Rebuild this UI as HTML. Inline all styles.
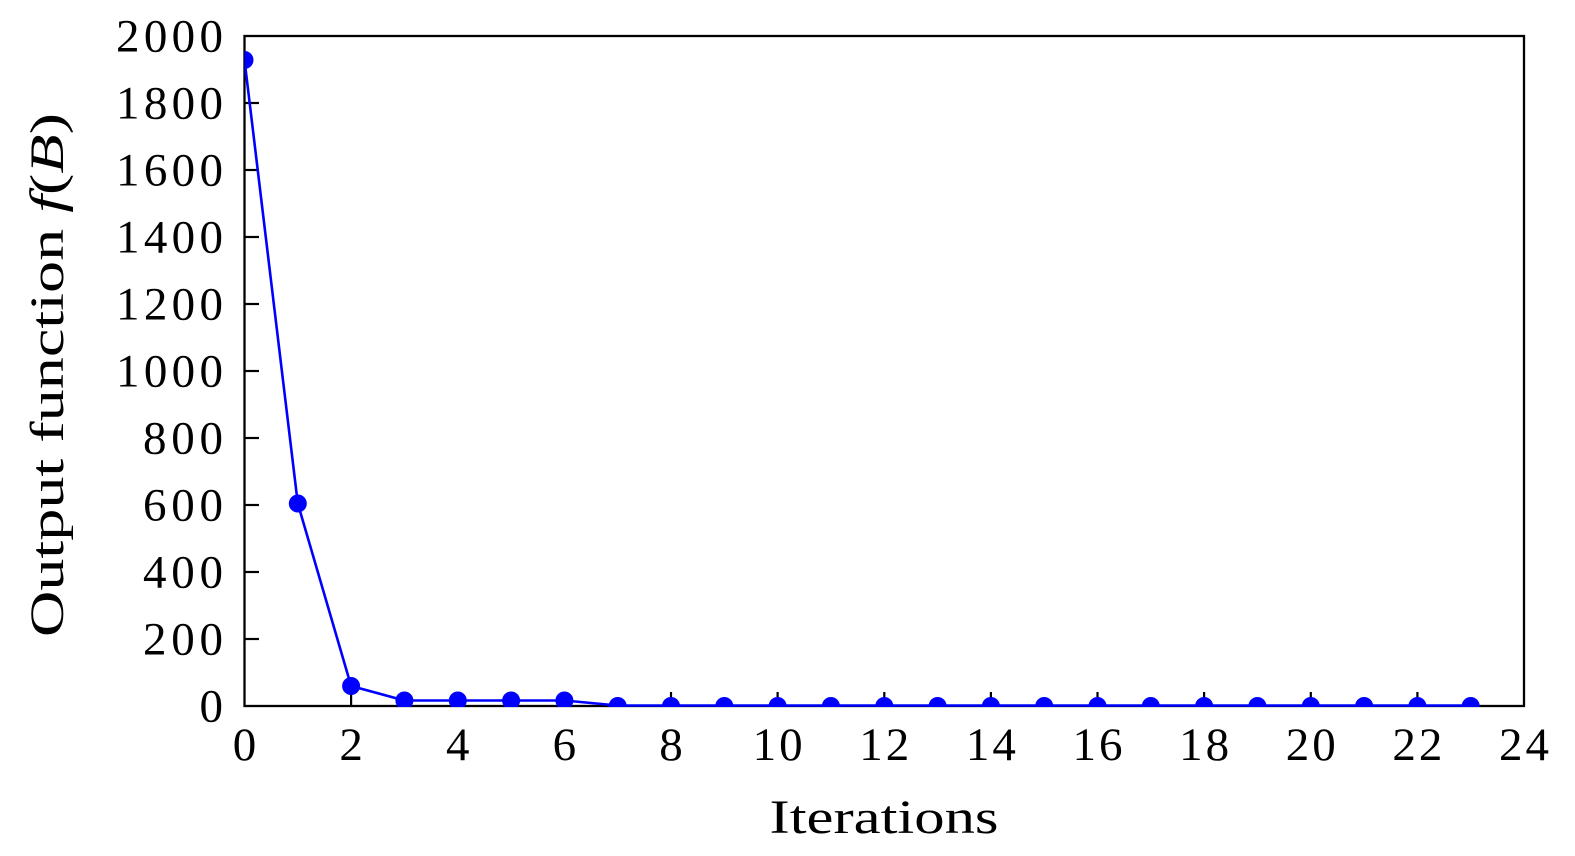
<!DOCTYPE html>
<html>
<head>
<meta charset="utf-8">
<style>
html,body{margin:0;padding:0;background:#fff;}
svg{display:block;}
text{font-family:"Liberation Serif","DejaVu Serif",serif;fill:#000;}
</style>
</head>
<body>
<svg width="1575" height="856" viewBox="0 0 1575 856" xmlns="http://www.w3.org/2000/svg">
<defs>
<clipPath id="pc"><rect x="244.5" y="36" width="1279.5" height="671"/></clipPath>
</defs>
<rect width="1575" height="856" fill="#fff"/>

<!-- y ticks -->
<g stroke="#000" stroke-width="2.2">
<line x1="244.5" y1="639" x2="259" y2="639"/>
<line x1="244.5" y1="572" x2="259" y2="572"/>
<line x1="244.5" y1="505" x2="259" y2="505"/>
<line x1="244.5" y1="438" x2="259" y2="438"/>
<line x1="244.5" y1="371" x2="259" y2="371"/>
<line x1="244.5" y1="304" x2="259" y2="304"/>
<line x1="244.5" y1="237" x2="259" y2="237"/>
<line x1="244.5" y1="170" x2="259" y2="170"/>
<line x1="244.5" y1="103" x2="259" y2="103"/>
<!-- x ticks -->
<line x1="351.1" y1="706" x2="351.1" y2="692"/>
<line x1="457.8" y1="706" x2="457.8" y2="692"/>
<line x1="564.4" y1="706" x2="564.4" y2="692"/>
<line x1="671" y1="706" x2="671" y2="692"/>
<line x1="777.6" y1="706" x2="777.6" y2="692"/>
<line x1="884.3" y1="706" x2="884.3" y2="692"/>
<line x1="990.9" y1="706" x2="990.9" y2="692"/>
<line x1="1097.5" y1="706" x2="1097.5" y2="692"/>
<line x1="1204.1" y1="706" x2="1204.1" y2="692"/>
<line x1="1310.8" y1="706" x2="1310.8" y2="692"/>
<line x1="1417.4" y1="706" x2="1417.4" y2="692"/>
</g>
<!-- frame -->
<rect x="244.5" y="36" width="1279.5" height="670" fill="none" stroke="#000" stroke-width="2.3"/>

<!-- series -->
<g clip-path="url(#pc)">
<polyline fill="none" stroke="#0000ff" stroke-width="2.6" stroke-linejoin="round"
points="244.5,60 297.8,503.5 351.1,686 404.4,700.5 457.8,700.5 511.1,700.5 564.4,700.5 617.7,705.5 671,705.5 724.3,705.5 777.6,705.5 830.9,705.5 884.3,705.5 937.6,705.5 990.9,705.5 1044.2,705.5 1097.5,705.5 1150.8,705.5 1204.1,705.5 1257.4,705.5 1310.8,705.5 1364.1,705.5 1417.4,705.5 1470.7,705.5"/>
<g fill="#0000ff">
<circle cx="244.5" cy="60" r="9"/>
<circle cx="297.8" cy="503.5" r="9"/>
<circle cx="351.1" cy="686" r="9"/>
<circle cx="404.4" cy="700.5" r="9"/>
<circle cx="457.8" cy="700.5" r="9"/>
<circle cx="511.1" cy="700.5" r="9"/>
<circle cx="564.4" cy="700.5" r="9"/>
<circle cx="617.7" cy="706" r="9"/>
<circle cx="671" cy="706" r="9"/>
<circle cx="724.3" cy="706" r="9"/>
<circle cx="777.6" cy="706" r="9"/>
<circle cx="830.9" cy="706" r="9"/>
<circle cx="884.3" cy="706" r="9"/>
<circle cx="937.6" cy="706" r="9"/>
<circle cx="990.9" cy="706" r="9"/>
<circle cx="1044.2" cy="706" r="9"/>
<circle cx="1097.5" cy="706" r="9"/>
<circle cx="1150.8" cy="706" r="9"/>
<circle cx="1204.1" cy="706" r="9"/>
<circle cx="1257.4" cy="706" r="9"/>
<circle cx="1310.8" cy="706" r="9"/>
<circle cx="1364.1" cy="706" r="9"/>
<circle cx="1417.4" cy="706" r="9"/>
<circle cx="1470.7" cy="706" r="9"/>
</g>
</g>

<!-- y tick labels -->
<g font-size="47" text-anchor="end">
<text x="223" y="721.5">0</text>
<text x="223" y="654.5" textLength="80" lengthAdjust="spacing">200</text>
<text x="223" y="587.5" textLength="80" lengthAdjust="spacing">400</text>
<text x="223" y="520.5" textLength="80" lengthAdjust="spacing">600</text>
<text x="223" y="453.5" textLength="80" lengthAdjust="spacing">800</text>
<text x="223" y="386.5" textLength="107" lengthAdjust="spacing">1000</text>
<text x="223" y="319.5" textLength="107" lengthAdjust="spacing">1200</text>
<text x="223" y="252.5" textLength="107" lengthAdjust="spacing">1400</text>
<text x="223" y="185.5" textLength="107" lengthAdjust="spacing">1600</text>
<text x="223" y="118.5" textLength="107" lengthAdjust="spacing">1800</text>
<text x="223" y="51.5" textLength="107" lengthAdjust="spacing">2000</text>
</g>

<!-- x tick labels -->
<g font-size="47" text-anchor="middle">
<text x="244.5" y="760">0</text>
<text x="351.1" y="760">2</text>
<text x="457.8" y="760">4</text>
<text x="564.4" y="760">6</text>
<text x="671" y="760">8</text>
<text x="777.6" y="760" textLength="50" lengthAdjust="spacing">10</text>
<text x="884.3" y="760" textLength="50" lengthAdjust="spacing">12</text>
<text x="990.9" y="760" textLength="50" lengthAdjust="spacing">14</text>
<text x="1097.5" y="760" textLength="50" lengthAdjust="spacing">16</text>
<text x="1204.1" y="760" textLength="50" lengthAdjust="spacing">18</text>
<text x="1310.8" y="760" textLength="50" lengthAdjust="spacing">20</text>
<text x="1417.4" y="760" textLength="50" lengthAdjust="spacing">22</text>
<text x="1524" y="760" textLength="50" lengthAdjust="spacing">24</text>
</g>

<!-- axis labels -->
<text x="884" y="833" font-size="48" text-anchor="middle" textLength="229" lengthAdjust="spacingAndGlyphs">Iterations</text>
<text transform="translate(63,375) rotate(-90)" font-size="48" text-anchor="middle" textLength="524" lengthAdjust="spacingAndGlyphs">Output function <tspan font-style="italic">f</tspan>(<tspan font-style="italic">B</tspan>)</text>
</svg>
</body>
</html>
